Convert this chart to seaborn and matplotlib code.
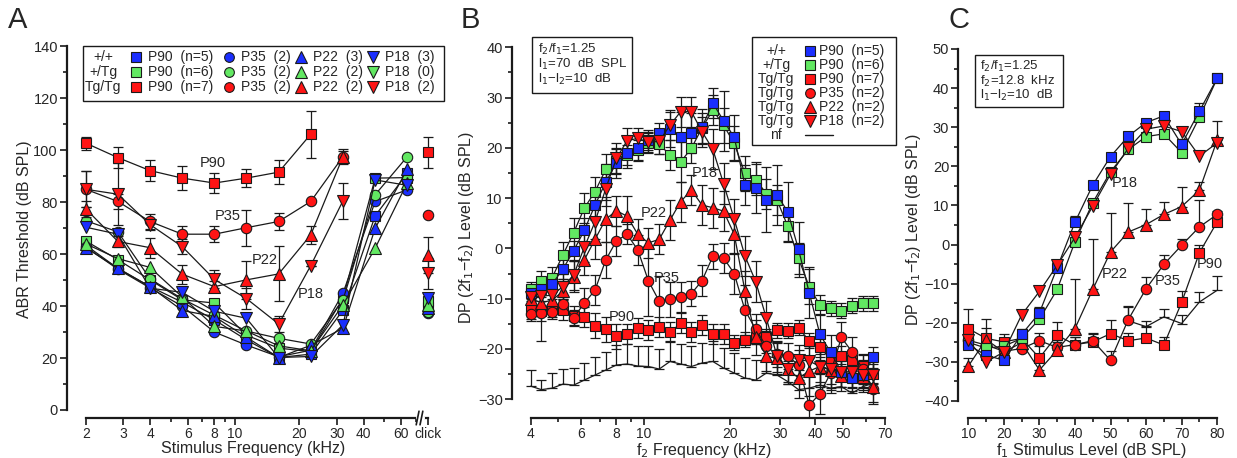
import numpy as np
import matplotlib
matplotlib.use("Agg")
import matplotlib.pyplot as plt
import seaborn as sns
from matplotlib.lines import Line2D
from matplotlib.patches import Rectangle
from matplotlib.transforms import blended_transform_factory

# ---------------- colours ----------------
BLUE = '#1a2eff'
GREEN = '#62e862'
RED = '#ff1414'

# ---------------- panel A : ABR thresholds ----------------
ABR_FREQ = [2, 2.83, 4, 5.66, 8, 11.3, 16, 22.6, 32, 45.25, 64]
CLICK_X = 80  # where the click column sits on the log axis

wt_p90 = [63.5, 54.5, 47.5, 41.5, 34.7, 27.0, 20.2, 21.5, 38.5, 74.8, 91.2]
het_p90 = [65.1, 57.9, 50.1, 42.4, 41.2, 28.8, 23.8, 22.5, 43.0, 89.3, 89.5]
wt_p35 = [62.8, 54.2, 47.0, 40.0, 30.0, 25.0, 20.5, 23.0, 45.0, 80.3, 84.8]
het_p35 = [72.9, 68.6, 50.5, 42.8, 36.5, 30.4, 27.6, 25.4, 42.4, 82.9, 97.6]
wt_p22 = [62.5, 54.6, 47.5, 38.3, 36.0, 28.0, 20.2, 24.9, 31.5, 70.0, 92.8]
het_p22 = [64.0, 58.3, 54.9, 43.5, 32.2, 30.4, 24.7, 22.8, 40.5, 62.3, 87.6]
wt_p18 = [70.4, 67.7, 46.9, 45.3, 38.0, 35.3, 20.2, 20.6, 32.8, 88.6, 86.5]

tg_p90 = [102.8, 97.2, 92.2, 89.3, 87.4, 89.3, 91.6, 106.2, np.nan, np.nan, np.nan]
tg_p90_sd = [2.5, 4.0, 4.0, 4.5, 4.0, 3.5, 4.5, 9.0, 0, 0, 0]
tg_p35 = [85.0, 80.3, 72.6, 67.7, 67.7, 70.2, 72.6, 80.3, 97.6, np.nan, np.nan]
tg_p35_sd = [7.0, 3.0, 3.0, 3.0, 3.0, 7.0, 3.3, 0, 3.0, 0, 0]
tg_p22 = [77.5, 64.9, 62.5, 52.3, 47.5, 50.1, 52.4, 67.4, 97.6, np.nan, np.nan]
tg_p22_sd = [3.0, 2.0, 3.9, 3.7, 2.0, 7.4, 10.6, 3.5, 2.0, 0, 0]
tg_p18 = [85.0, 83.1, 71.4, 62.9, 50.3, 42.9, 33.1, 55.6, 80.6, np.nan, np.nan]
tg_p18_sd = [7.0, 12.0, 2.0, 3.0, 3.5, 4.0, 3.0, 0, 7.0, 0, 0]

# click thresholds, order: wt90 het90 wt35 het35 wt22 het22 wt18 tg90 tg35 tg22 tg18
click_vals = [39.5, 41.8, 37.3, 37.9, 39.3, 40.6, 43.0, 99.2, 75.1, 59.7, 52.7]
click_sd = [0, 0, 0, 0, 0, 0, 0, 6.0, 0, 7.0, 6.0]

# ---------------- panel B : DPOAE vs f2 (1/8 octave steps 4-64 kHz) ----------------
F2 = [4.0, 4.36, 4.76, 5.19, 5.66, 6.17, 6.73, 7.34, 8.0, 8.72, 9.51, 10.37,
      11.31, 12.34, 13.45, 14.67, 16.0, 17.45, 19.03, 20.75, 22.63, 24.68,
      26.91, 29.34, 32.0, 34.9, 38.05, 41.5, 45.25, 49.35, 53.82, 58.69, 64.0]

dp_wt90 = [-8.9, -8.1, -7.1, -4.1, -0.5, 3.6, 8.6, 13.2, 17.0, 18.9, 19.9, 21.5,
           22.9, 23.7, 22.1, 23.0, 24.2, 28.9, 25.4, 22.1, 12.6, 12.1, 9.7, 10.6,
           7.3, -0.2, -8.8, -17.1, -20.7, -24.5, -25.8, -25.2, -21.7]
dp_het90 = [-8.1, -6.5, -5.8, -1.3, 3.1, 8.0, 11.3, 15.7, 17.3, 18.5, 19.5, 21.0,
            20.8, 18.5, 17.2, 19.9, 24.0, 27.5, 24.5, 20.9, 14.9, 13.7, 10.9, 9.6,
            4.4, -2.0, -7.6, -11.3, -11.9, -12.4, -11.4, -10.9, -10.9]
dp_tg90 = [-12.0, -12.4, -12.0, -12.2, -13.5, -13.6, -15.4, -16.1, -17.5, -17.1, -15.9, -16.3,
           -15.7, -16.7, -14.9, -16.7, -15.3, -17.0, -17.1, -18.8, -18.2, -17.6, -17.6, -16.3,
           -16.4, -15.8, -18.4, -19.7, -22.0, -21.5, -22.3, -23.3, -24.9]
dp_tg35 = [-13.0, -12.9, -12.7, -11.1, -13.8, -10.9, -8.3, -2.3, 1.5, 2.8, -0.3, -6.5,
           -10.5, -10.1, -9.6, -9.0, -6.4, -1.6, -1.9, -5.0, -12.3, -16.1, -19.5, -21.1,
           -21.4, -23.2, -31.2, -28.9, -24.8, -17.7, -20.6, -24.0, -28.0]
dp_tg22 = [-10.0, -10.8, -10.3, -8.5, -5.6, -2.3, 1.8, 5.8, 7.5, 6.4, 2.8, 1.1,
           1.8, 5.6, 9.3, 11.6, 8.6, 8.1, 7.4, 2.8, -8.5, -17.7, -21.4, -21.9,
           -24.0, -25.8, -24.4, -23.5, -24.2, -25.4, -24.8, -25.5, -27.5]
dp_tg18 = [-9.6, -9.5, -9.3, -7.6, -5.3, 0.2, 5.3, 11.9, 17.9, 21.4, 21.9, 21.1,
           21.3, 24.5, 27.2, 27.2, 23.2, 19.7, 12.9, 5.8, -1.5, -6.6, -13.9, -21.5,
           -24.0, -22.2, -22.4, -23.5, -24.0, -24.6, -24.6, -25.2, -25.2]
dp_nf = [-27.4, -28.1, -27.8, -27.0, -27.2, -26.2, -25.2, -24.2, -23.2, -23.0, -23.4, -23.5,
         -24.0, -22.5, -23.0, -23.5, -22.8, -22.5, -23.8, -24.8, -25.8, -26.2, -24.8, -25.2,
         -26.5, -28.1, -27.8, -27.2, -27.8, -27.5, -28.8, -27.5, -26.8]

sd_wt90 = [1.5, 1.5, 1.5, 2.0, 2.0, 2.5, 3.0, 3.5, 3.0, 3.0, 2.5, 2.0, 2.0, 3.5, 5.0, 4.0, 3.5,
           3.0, 6.0, 4.5, 4.0, 5.0, 6.5, 6.0, 6.0, 5.5, 5.0, 4.0, 3.5, 3.0, 2.5, 2.5, 2.0]
sd_het90 = [1.5, 2.0, 2.0, 2.5, 3.0, 3.0, 3.0, 3.0, 2.5, 2.0, 2.0, 2.0, 2.0, 3.0, 4.0, 3.0, 3.0,
            3.0, 3.5, 3.5, 3.5, 3.0, 3.0, 3.0, 3.0, 3.0, 3.5, 2.0, 1.5, 1.5, 1.5, 1.5, 1.5]
sd_tg90 = [2.0, 2.0, 2.0, 2.0, 2.0, 2.0, 2.5, 2.5, 2.5, 2.0, 2.0, 2.0, 2.0, 2.0, 2.0, 2.0, 2.0,
           2.0, 2.0, 1.5, 1.5, 1.5, 1.5, 1.5, 1.5, 1.5, 1.5, 2.0, 2.0, 2.0, 2.0, 2.0, 2.0]
sd_tg35 = [1.5, 5.5, 1.0, 1.0, 1.5, 3.0, 3.0, 3.5, 3.0, 2.0, 3.0, 7.0, 5.0, 3.5, 3.0, 2.5, 3.0,
           2.5, 3.0, 4.0, 5.0, 3.0, 3.0, 2.5, 2.5, 3.0, 6.0, 4.0, 4.0, 3.0, 3.0, 3.0, 3.0]
sd_tg22 = [2.0, 2.0, 2.0, 2.5, 3.0, 3.0, 4.0, 4.5, 3.0, 4.0, 3.0, 3.0, 3.0, 4.0, 4.0, 3.0, 4.0,
           4.0, 4.0, 4.0, 4.0, 3.5, 3.0, 3.0, 3.0, 4.0, 5.0, 4.0, 4.0, 3.0, 3.0, 3.0, 3.0]
sd_tg18 = [2.0, 2.0, 2.0, 2.5, 3.0, 3.0, 3.5, 3.5, 3.0, 2.5, 2.0, 2.0, 2.5, 3.0, 3.0, 3.0, 3.0,
           4.0, 4.0, 4.0, 4.0, 4.0, 3.5, 3.0, 3.0, 3.0, 3.0, 3.0, 3.0, 3.0, 3.0, 3.0, 3.0]
sd_nf = [3.2, 2.0, 3.0, 3.0, 3.5, 3.5, 3.5, 3.5, 4.0, 4.0, 4.0, 4.0, 4.0, 4.0, 4.0, 4.0, 4.0,
         4.0, 4.0, 4.0, 4.0, 4.0, 4.0, 4.0, 4.0, 4.0, 6.0, 5.0, 4.5, 4.5, 4.5, 4.5, 4.5]

# ---------------- panel C : DPOAE growth at f2 = 12.8 kHz ----------------
L1 = [10, 15, 20, 25, 30, 35, 40, 45, 50, 55, 60, 65, 70, 75, 80]
io_wt90 = [-25.7, -28.3, -29.6, -23.0, -17.5, -5.9, 5.7, 15.2, 22.5, 27.7, 31.2, 32.9, 25.6, 34.1, 42.5]
io_het90 = [-25.0, -26.5, -26.0, -24.0, -19.1, -11.5, 0.7, 10.7, 18.6, 24.3, 27.6, 28.3, 23.5, 32.5, 42.5]
io_tg90 = [-21.5, -24.0, -24.9, -24.0, -29.0, -23.2, -25.6, -24.9, -22.8, -24.6, -23.9, -25.7, -14.8, -2.1, 5.8]
io_tg35 = [-24.5, -25.7, -27.3, -26.6, -24.6, -26.3, -25.6, -24.6, -29.6, -19.2, -11.3, -5.1, -0.2, 4.5, 7.7]
io_tg22 = [-31.1, -24.3, -27.5, -25.1, -32.1, -27.0, -21.5, -11.5, -1.9, 3.2, 5.1, 7.7, 9.7, 13.9, 26.7]
io_tg18 = [-24.5, -30.0, -27.5, -18.0, -12.0, -5.3, 1.8, 9.8, 18.0, 24.6, 29.5, 30.3, 28.9, 22.6, 26.0]
io_sd_wt90 = [1.5, 1.5, 1.0, 1.5, 1.5, 1.5, 1.5, 1.0, 1.0, 1.0, 1.0, 1.0, 1.5, 2.0, 1.0]
io_sd_tg90 = [5.0, 5.0, 2.0, 2.0, 3.0, 3.5, 2.0, 2.0, 3.5, 2.0, 3.0, 2.0, 3.0, 2.0, 1.0]
io_sd_tg35 = [2.0, 2.0, 2.0, 2.0, 2.0, 2.0, 2.0, 2.0, 2.5, 3.5, 3.0, 2.5, 1.5, 7.0, 1.0]
io_sd_tg22 = [2.0, 3.0, 2.0, 2.0, 2.0, 2.0, 12.8, 12.8, 10.0, 7.5, 4.0, 3.3, 5.0, 2.0, 5.0]
IO_NF_L = [55, 60, 65, 70, 75, 80]
io_nf = [-19.5, -21.0, -18.5, -20.2, -14.7, -11.7]
io_sd_nf = [3.5, 1.5, 2.0, 2.3, 2.6, 3.6]

# ---------------- figure ----------------
sns.set_theme(style="ticks")
plt.rcParams['font.family'] = ['Liberation Sans', 'DejaVu Sans']
plt.rcParams['xtick.labelsize'] = 10
plt.rcParams['ytick.labelsize'] = 10.5
plt.rcParams['axes.labelsize'] = 11.5

W, H = 1237, 458
fig = plt.figure(figsize=(W / 100, H / 100), dpi=100)


def add_axes_px(left, top, right, bottom):
    return fig.add_axes([left / W, 1 - bottom / H, (right - left) / W, (bottom - top) / H])


def fx(x):
    return x / W


def fy(y):
    return 1 - y / H


def draw_series(ax, x, y, color, marker, sd=None, upper_only=False, ms=7.5, z=3):
    x = np.asarray(x, float)
    y = np.asarray(y, float)
    ok = ~np.isnan(y)
    x, y = x[ok], y[ok]
    if sd is not None:
        s = np.asarray(sd, float)[ok]
        err = np.vstack([np.zeros_like(s), s]) if upper_only else s
        ax.errorbar(x, y, yerr=err, fmt='none', ecolor='k', elinewidth=0.9,
                    capsize=3.5, capthick=0.9, zorder=z - 0.5)
    if marker in ('^', 'v'):
        ms = ms + 1
    sns.lineplot(x=x, y=y, ax=ax, color='k', lw=0.9, marker=marker, markersize=ms,
                 markerfacecolor=color, markeredgecolor='k', markeredgewidth=0.8,
                 errorbar=None, sort=False, legend=False, zorder=z)


def style_axis(ax):
    sns.despine(ax=ax)
    ax.tick_params(axis='both', which='major', direction='out', length=5, width=1.2, color='k', pad=1.5)
    ax.tick_params(axis='both', which='minor', direction='out', length=3, width=1.2, color='k')
    for s in ('left', 'bottom'):
        ax.spines[s].set_linewidth(1.6)
        ax.spines[s].set_color('k')


# ---- A ----
axA = add_axes_px(67, 40, 440, 418)
axA.set_xscale('log')
axA.set_xlim(1.635, 91)
axA.set_ylim(-3.1, 142.5)

a_series = [
    (wt_p90, BLUE, 's'), (het_p90, GREEN, 's'), (wt_p35, BLUE, 'o'), (het_p35, GREEN, 'o'),
    (wt_p22, BLUE, '^'), (het_p22, GREEN, '^'), (wt_p18, BLUE, 'v'),
]
for vals, col, mk in a_series:
    draw_series(axA, ABR_FREQ, vals, col, mk)
for vals, sd, mk in [(tg_p90, tg_p90_sd, 's'), (tg_p35, tg_p35_sd, 'o'),
                     (tg_p22, tg_p22_sd, '^'), (tg_p18, tg_p18_sd, 'v')]:
    draw_series(axA, ABR_FREQ, vals, RED, mk, sd=sd, z=4)

click_cols = [BLUE, GREEN, BLUE, GREEN, BLUE, GREEN, BLUE, RED, RED, RED, RED]
click_mks = ['s', 's', 'o', 'o', '^', '^', 'v', 's', 'o', '^', 'v']
for v, s, c, m in zip(click_vals, click_sd, click_cols, click_mks):
    if s > 0:
        axA.errorbar([CLICK_X], [v], yerr=[s], fmt='none', ecolor='k', elinewidth=0.9,
                     capsize=3.5, capthick=0.9, zorder=3)
    axA.plot([CLICK_X], [v], ls='none', marker=m, ms=8.5 if m in '^v' else 7.5,
             mfc=c, mec='k', mew=0.8, zorder=4)

for txt, x, y in [('P90', 7.9, 95.2), ('P35', 9.2, 74.8), ('P22', 13.8, 57.8), ('P18', 22.7, 44.7)]:
    axA.text(x, y, txt, fontsize=10.5, ha='center', va='center', zorder=6)

style_axis(axA)
axA.spines['left'].set_bounds(0, 140)
axA.spines['bottom'].set_bounds(2, CLICK_X)
axA.set_yticks(np.arange(0, 141, 20))
axA.set_yticks(np.arange(10, 140, 20), minor=True)
axA.set_xticks([2, 3, 4, 6, 8, 10, 20, 30, 40, 60, CLICK_X])
axA.set_xticklabels(['2', '3', '4', '6', '8', '10', '20', '30', '40', '60', 'click'])
axA.set_xticks([5, 7, 9, 50, 70], minor=True)
axA.xaxis.set_minor_formatter(matplotlib.ticker.NullFormatter())
axA.set_xlabel('Stimulus Frequency (kHz)', labelpad=0)
axA.set_ylabel('ABR Threshold (dB SPL)', labelpad=1)
# axis break marks before the click column
tr = blended_transform_factory(axA.transData, axA.transAxes)
axA.plot([72.0, 75.5], [0.0, 0.0], transform=tr, color='white', lw=3, clip_on=False, zorder=7)
for xb in (71.5, 74.5):
    axA.plot([xb * 0.985, xb * 1.015], [-0.018, 0.018], transform=tr, color='k', lw=1.2,
             clip_on=False, zorder=8)

# ---- B ----
axB = add_axes_px(511.7, 37, 897, 418.3)
axB.set_xscale('log')
axB.set_xlim(3.43, 77.4)
axB.set_ylim(-33.8, 42.05)
axB.errorbar(F2, dp_nf, yerr=[np.zeros(len(sd_nf)), sd_nf], fmt='none', ecolor='k',
             elinewidth=0.9, capsize=3.5, capthick=0.9, zorder=2)
sns.lineplot(x=F2, y=dp_nf, ax=axB, color='k', lw=0.9, errorbar=None, legend=False, zorder=2)
draw_series(axB, F2, dp_tg90, RED, 's', sd=sd_tg90)
draw_series(axB, F2, dp_tg35, RED, 'o', sd=sd_tg35)
draw_series(axB, F2, dp_tg22, RED, '^', sd=sd_tg22)
draw_series(axB, F2, dp_het90, GREEN, 's', sd=sd_het90)
draw_series(axB, F2, dp_wt90, BLUE, 's', sd=sd_wt90)
draw_series(axB, F2, dp_tg18, RED, 'v', sd=sd_tg18)
for txt, x, y in [('P18', 16.4, 14.9), ('P22', 10.8, 7.1), ('P35', 12.0, -5.8), ('P90', 8.35, -13.6)]:
    axB.text(x, y, txt, fontsize=10.5, ha='center', va='center', zorder=6)

style_axis(axB)
axB.spines['left'].set_bounds(-30, 40)
axB.spines['bottom'].set_bounds(4, 70)
axB.set_yticks(np.arange(-30, 41, 10))
axB.set_yticks(np.arange(-25, 40, 10), minor=True)
axB.set_xticks([4, 6, 8, 10, 20, 30, 40, 50, 70])
axB.set_xticklabels(['4', '6', '8', '10', '20', '30', '40', '50', '70'])
axB.set_xticks([5, 7, 9, 60], minor=True)
axB.xaxis.set_minor_formatter(matplotlib.ticker.NullFormatter())
axB.set_xlabel('f$_2$ Frequency (kHz)', labelpad=0)
axB.set_ylabel('DP (2f$_1$\u2212f$_2$) Level (dB SPL)', labelpad=1)

# ---- C ----
axC = add_axes_px(958.3, 40, 1225, 418)
axC.set_xlim(7.19, 82.2)
axC.set_ylim(-44.36, 52.3)
axC.errorbar(IO_NF_L, io_nf, yerr=[np.zeros(len(io_sd_nf)), io_sd_nf], fmt='none', ecolor='k',
             elinewidth=0.9, capsize=3.5, capthick=0.9, zorder=2)
sns.lineplot(x=IO_NF_L, y=io_nf, ax=axC, color='k', lw=0.9, errorbar=None, legend=False, zorder=2)
draw_series(axC, L1, io_tg90, RED, 's', sd=io_sd_tg90, upper_only=True)
draw_series(axC, L1, io_tg35, RED, 'o', sd=io_sd_tg35, upper_only=True)
draw_series(axC, L1, io_tg22, RED, '^', sd=io_sd_tg22, upper_only=True)
draw_series(axC, L1, io_het90, GREEN, 's')
draw_series(axC, L1, io_wt90, BLUE, 's', sd=io_sd_wt90, upper_only=True)
draw_series(axC, L1, io_tg18, RED, 'v')
for txt, x, y in [('P18', 54.1, 15.7), ('P22', 51.3, -7.6), ('P35', 66.2, -9.3), ('P90', 78.0, -5.1)]:
    axC.text(x, y, txt, fontsize=10.5, ha='center', va='center', zorder=6)

style_axis(axC)
axC.spines['left'].set_bounds(-40, 50)
axC.spines['bottom'].set_bounds(10, 80)
axC.set_yticks(np.arange(-40, 51, 10))
axC.set_yticks(np.arange(-35, 50, 10), minor=True)
axC.set_xticks(np.arange(10, 81, 10))
axC.set_xticks(np.arange(15, 80, 10), minor=True)
axC.set_xlabel('f$_1$ Stimulus Level (dB SPL)', labelpad=0)
axC.set_ylabel('DP (2f$_1$\u2212f$_2$) Level (dB SPL)', labelpad=1)

# ---------------- legends and condition boxes (placed in figure pixels) ----------------
def box(x0, y0, x1, y1):
    fig.add_artist(Rectangle((fx(x0), fy(y1)), fx(x1) - fx(x0), fy(y0) - fy(y1),
                             transform=fig.transFigure, fc='white', ec='k', lw=1.0, zorder=10))


def sym(x, y, marker, color):
    fig.add_artist(Line2D([fx(x)], [fy(y)], transform=fig.transFigure, ls='none', marker=marker,
                          ms=8 if marker in '^v' else 7, mfc=color, mec='k', mew=0.8, zorder=11))


def label(x, y, s, ha='left', size=10):
    fig.text(fx(x), fy(y), s, ha=ha, va='center', fontsize=size, zorder=11)


# legend A
box(83, 46, 444, 101)
rowsA = [57, 72, 87]
genoA = ['+/+', '+/Tg', 'Tg/Tg']
colsA = [(136, 's', ['P90  (n=5)', 'P90  (n=6)', 'P90  (n=7)']),
         (229, 'o', ['P35  (2)', 'P35  (2)', 'P35  (2)']),
         (301, '^', ['P22  (3)', 'P22  (2)', 'P22  (2)']),
         (373, 'v', ['P18  (3)', 'P18  (0)', 'P18  (2)'])]
for i, y in enumerate(rowsA):
    label(103, y, genoA[i], ha='center')
    for xm, mk, labs in colsA:
        sym(xm, y, mk, [BLUE, GREEN, RED][i])
        label(xm + 12, y, labs[i])

# legend B
box(752, 37, 896, 145)
rowsB = [51, 65, 79, 93, 107, 121, 135]
genoB = ['+/+', '+/Tg', 'Tg/Tg', 'Tg/Tg', 'Tg/Tg', 'Tg/Tg', 'nf']
mkB = [('s', BLUE), ('s', GREEN), ('s', RED), ('o', RED), ('^', RED), ('v', RED)]
labB = ['P90  (n=5)', 'P90  (n=6)', 'P90  (n=7)', 'P35  (n=2)', 'P22  (n=2)', 'P18  (n=2)']
for i, y in enumerate(rowsB):
    label(776, y, genoB[i], ha='center')
    if i < 6:
        sym(810, y, mkB[i][0], mkB[i][1])
        label(819, y, labB[i])
fig.add_artist(Line2D([fx(805), fx(833)], [fy(rowsB[-1]), fy(rowsB[-1])], transform=fig.transFigure,
                      color='k', lw=1.0, zorder=11))

# condition boxes
box(532, 37, 632, 93)
for y, s in zip([49.5, 64.5, 79.5], ['f$_2$/f$_1$=1.25', 'l$_1$=70  dB  SPL', 'l$_1$\u2212l$_2$=10  dB']):
    label(538, y, s, size=9.5)
box(975, 55, 1063, 107)
for y, s in zip([66.5, 81, 95.5], ['f$_2$/f$_1$=1.25', 'f$_2$=12.8  kHz', 'l$_1$\u2212l$_2$=10  dB']):
    label(980, y, s, size=9.5)

# panel letters
for x, s in [(8, 'A'), (461, 'B'), (949, 'C')]:
    fig.text(fx(x), fy(20), s, fontsize=21, ha='left', va='center')

fig.savefig('out.png', dpi=100, facecolor='white')
